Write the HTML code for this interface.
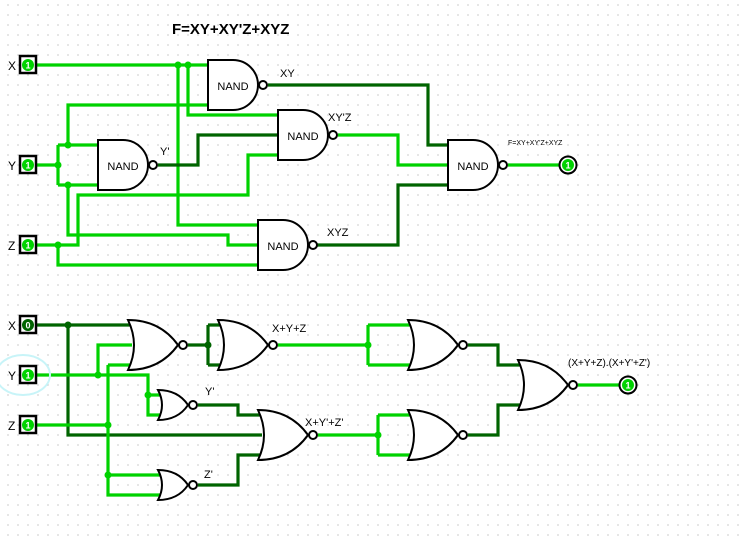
<!DOCTYPE html>
<html><head><meta charset="utf-8"><style>
html,body{margin:0;padding:0;background:#fff;}
svg{display:block;}
text{font-family:"Liberation Sans",sans-serif;}
</style></head><body>
<svg width="743" height="540" viewBox="0 0 743 540" xmlns="http://www.w3.org/2000/svg">
<defs>
<pattern id="g" x="7" y="4" width="10" height="10" patternUnits="userSpaceOnUse">
<rect x="0.5" y="0.5" width="1" height="1" fill="#999"/></pattern>
</defs>
<rect width="743" height="540" fill="url(#g)"/>

<text x="172" y="34" font-size="15" font-weight="bold">F=XY+XY'Z+XYZ</text>

<g fill="none" stroke-width="3.2" stroke-linejoin="miter">
<!-- top light -->
<g stroke="#00d200">
<path d="M37 65H208"/>
<path d="M178 65V225H258"/>
<path d="M188 65V115H278"/>
<path d="M37 165H58M58 145V185M58 145H98M58 185H98"/>
<path d="M68 145V105H208"/>
<path d="M68 185V235H228V245H258"/>
<path d="M37 245H78V195H248V155H278"/>
<path d="M58 245V265H258"/>
<path d="M338 135H398V165H448"/>
<path d="M508 165H560"/>
</g>
<g stroke="#006400">
<path d="M268 85H428V145H448"/>
<path d="M158 165H198V135H278"/>
<path d="M308 245H398V185H448"/>
</g>
<!-- bottom dark -->
<g stroke="#006400">
<path d="M37 325H130"/>
<path d="M68 325V435H262"/>
<path d="M188 345H208M208 325V365M208 325H220M208 365H220"/>
<path d="M198 405H238V415H262"/>
<path d="M198 485H238V455H262"/>
<path d="M468 345H498V365H520"/>
<path d="M468 435H498V405H520"/>
</g>
<g stroke="#00d200">
<path d="M37 375H148V415H160M148 395H160"/>
<path d="M98 375V345H132"/>
<path d="M37 425H108"/>
<path d="M108 365V495H160M108 365H132M108 475H160"/>
<path d="M278 345H368M368 325V365M368 325H410M368 365H410"/>
<path d="M318 435H378M378 415V455M378 415H410M378 455H410"/>
<path d="M578 385H620"/>
</g>
</g>

<!-- junctions -->
<g fill="#00d200">
<circle cx="178" cy="65" r="3.5"/><circle cx="188" cy="65" r="3.5"/>
<circle cx="58" cy="165" r="3.5"/><circle cx="68" cy="145" r="3.5"/><circle cx="68" cy="185" r="3.5"/>
<circle cx="58" cy="245" r="3.5"/>
<circle cx="98" cy="375" r="3.5"/><circle cx="148" cy="395" r="3.5"/>
<circle cx="108" cy="425" r="3.5"/><circle cx="108" cy="475" r="3.5"/>
<circle cx="368" cy="345" r="3.5"/><circle cx="378" cy="435" r="3.5"/>
</g>
<g fill="#006400">
<circle cx="68" cy="325" r="3.5"/><circle cx="208" cy="345" r="3.5"/>
</g>

<!-- NAND gates -->
<g fill="#fff" stroke="#000" stroke-width="2">
<path d="M208 60H233A25 25 0 0 1 233 110H208Z"/><circle cx="263" cy="85" r="4"/>
<path d="M278 110H303A25 25 0 0 1 303 160H278Z"/><circle cx="333" cy="135" r="4"/>
<path d="M98 140H123A25 25 0 0 1 123 190H98Z"/><circle cx="153" cy="165" r="4"/>
<path d="M258 220H283A25 25 0 0 1 283 270H258Z"/><circle cx="313" cy="245" r="4"/>
<path d="M448 140H473A25 25 0 0 1 473 190H448Z"/><circle cx="503" cy="165" r="4"/>
</g>
<g font-size="11" text-anchor="middle">
<text x="233" y="90">NAND</text><text x="303" y="140">NAND</text>
<text x="123" y="170">NAND</text><text x="283" y="250">NAND</text>
<text x="473" y="170">NAND</text>
</g>

<!-- NOR gates -->
<g fill="#fff" stroke="#000" stroke-width="2">
<path d="M128 320Q140 345 128 370Q160 370 178 345Q160 320 128 320Z"/><circle cx="183" cy="345" r="4"/>
<path d="M218 320Q230 345 218 370Q250 370 268 345Q250 320 218 320Z"/><circle cx="273" cy="345" r="4"/>
<path d="M408 320Q420 345 408 370Q440 370 458 345Q440 320 408 320Z"/><circle cx="463" cy="345" r="4"/>
<path d="M408 410Q420 435 408 460Q440 460 458 435Q440 410 408 410Z"/><circle cx="463" cy="435" r="4"/>
<path d="M258 410Q270 435 258 460Q290 460 308 435Q290 410 258 410Z"/><circle cx="313" cy="435" r="4"/>
<path d="M518 360Q530 385 518 410Q550 410 568 385Q550 360 518 360Z"/><circle cx="573" cy="385" r="4"/>
<path d="M158 390Q166 405 158 420Q178 420 188 405Q178 390 158 390Z"/><circle cx="193" cy="405" r="4"/>
<path d="M158 470Q166 485 158 500Q178 500 188 485Q178 470 158 470Z"/><circle cx="193" cy="485" r="4"/>
</g>

<!-- labels -->
<g font-size="11">
<text x="280" y="77">XY</text>
<text x="328" y="121">XY'Z</text>
<text x="160" y="155">Y'</text>
<text x="327" y="236">XYZ</text>
<text x="508" y="145" font-size="7">F=XY+XY'Z+XYZ</text>
<text x="272" y="332">X+Y+Z</text>
<text x="205" y="395">Y'</text>
<text x="305" y="426">X+Y'+Z'</text>
<text x="204" y="478">Z'</text>
<text x="568" y="366" font-size="10">(X+Y+Z).(X+Y'+Z')</text>
</g>

<!-- Y selection ellipse -->
<ellipse cx="23" cy="375" rx="27" ry="20" fill="none" stroke="#c8f4f8" stroke-width="2"/>

<!-- input pins -->
<g font-size="12">
<text x="8" y="70">X</text><text x="8" y="170">Y</text><text x="8" y="250">Z</text>
<text x="8" y="330">X</text><text x="8" y="380">Y</text><text x="8" y="430">Z</text>
</g>
<g fill="#fff" stroke="#000" stroke-width="2.5">
<rect x="20" y="56" width="16" height="17"/><rect x="20" y="156" width="16" height="17"/>
<rect x="20" y="236" width="16" height="17"/><rect x="20" y="316" width="16" height="17"/>
<rect x="20" y="366" width="16" height="17"/><rect x="20" y="416" width="16" height="17"/>
</g>
<g fill="#00d200">
<circle cx="28" cy="65" r="6"/><circle cx="28" cy="165" r="6"/><circle cx="28" cy="245" r="6"/>
<circle cx="28" cy="375" r="6"/><circle cx="28" cy="425" r="6"/>
</g>
<circle cx="28" cy="325" r="6" fill="#006400"/>
<g font-size="9" fill="#fff" text-anchor="middle" font-weight="bold">
<text x="28" y="68.5">1</text><text x="28" y="168.5">1</text><text x="28" y="248.5">1</text>
<text x="28" y="328.5">0</text><text x="28" y="378.5">1</text><text x="28" y="428.5">1</text>
</g>

<!-- output LEDs -->
<circle cx="568" cy="165" r="8.5" fill="#fff" stroke="#000" stroke-width="2"/>
<circle cx="568" cy="165" r="6" fill="#00d200"/>
<text x="568" y="168.5" font-size="9" fill="#fff" text-anchor="middle" font-weight="bold">1</text>
<circle cx="628" cy="385" r="8.5" fill="#fff" stroke="#000" stroke-width="2"/>
<circle cx="628" cy="385" r="6" fill="#00d200"/>
<text x="628" y="388.5" font-size="9" fill="#fff" text-anchor="middle" font-weight="bold">1</text>
</svg>
</body></html>
